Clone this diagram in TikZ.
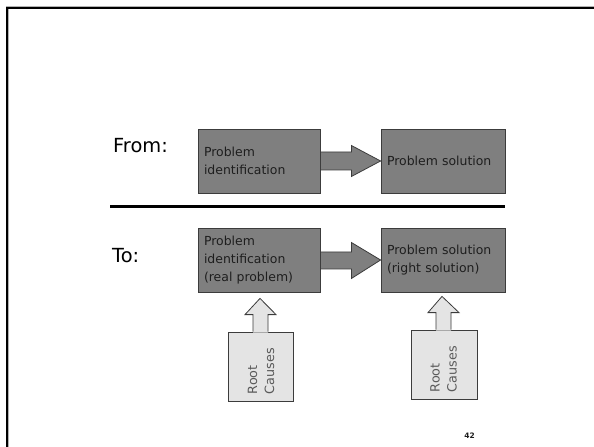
\documentclass[tikz,border=0pt]{standalone}
\usepackage{fontspec}
\setmainfont{DejaVu Sans}
\usetikzlibrary{calc}
\definecolor{boxfill}{HTML}{7F7F7F}
\definecolor{boxline}{HTML}{3C3C3C}
\definecolor{calfill}{HTML}{E4E4E4}
\definecolor{boxtext}{HTML}{1E1E1E}
\definecolor{rctextc}{HTML}{5A5A5A}
\tikzset{
  pbox/.style={draw=boxline, fill=boxfill, line width=0.8bp, rectangle,
    minimum height=64bp, inner xsep=6bp, inner ysep=0pt, align=left,
    text=boxtext, font=\fontsize{12.5}{18}\selectfont},
  barrow/.style={draw=boxline, fill=boxfill, line width=0.8bp, line join=miter},
  calbox/.style={draw=boxline, fill=calfill, line width=0.8bp, rectangle,
    minimum width=65bp, minimum height=69bp, inner sep=0pt},
  calhead/.style={draw=boxline, fill=calfill, line width=0.8bp, line join=miter},
  rctext/.style={rotate=90, anchor=west, align=left, text=rctextc,
    inner sep=0pt, font=\fontsize{12.8}{17}\selectfont},
  label/.style={anchor=base west, inner sep=0pt, font=\fontsize{19.5}{22}\selectfont},
}
\begin{document}
\begin{tikzpicture}[x=1bp,y=-1bp]
\useasboundingbox (0,0) rectangle (594,447);
% slide frame
\draw[gray!60, line width=3.4bp] (7.3,447) -- (7.3,7.8) -- (594,7.8);
\draw[black, line width=2.2bp] (7.3,447) -- (7.3,7.8) -- (594,7.8);

% labels
\node[label] (from) at (113,153) {From:};
\node[label] (to) at (112,263) {To:};

% separator
\draw[line width=3bp] (110,207) -- (505,207);

% From row
\node[pbox, text width=110bp] (b1) at (259,161) {Problem\\identification};
\node[pbox, text width=112bp] (b2) at (443,161) {Problem solution};
\draw[barrow] ($(b1.east)+(0,-9)$) -- ($(b1.east)+(31,-9)$) -- ($(b1.east)+(31,-15.5)$)
  -- (b2.west) -- ($(b1.east)+(31,15.5)$) -- ($(b1.east)+(31,9)$) -- ($(b1.east)+(0,9)$) -- cycle;

% To row
\node[pbox, text width=110bp] (b3) at (259,260) {Problem\\identification\\(real problem)};
\node[pbox, text width=112bp] (b4) at (443,260) {Problem solution\\(right solution)};
\draw[barrow] ($(b3.east)+(0,-8)$) -- ($(b3.east)+(31,-8)$) -- ($(b3.east)+(31,-17.5)$)
  -- (b4.west) -- ($(b3.east)+(31,18.5)$) -- ($(b3.east)+(31,9)$) -- ($(b3.east)+(0,9)$) -- cycle;

% Root causes callouts
\node[calbox] (rc1) at (260.5,366.5) {};
\coordinate (t1) at ($(b3.south)+(1,6)$);
\fill[calfill] ($(rc1.north)+(-7.5,1)$) -- ($(rc1.north)+(-7.5,-17)$) -- ($(rc1.north)+(-15.5,-17)$)
  -- (t1) -- ($(rc1.north)+(15.5,-17)$) -- ($(rc1.north)+(7.5,-17)$) -- ($(rc1.north)+(7.5,1)$) -- cycle;
\draw[calhead] ($(rc1.north)+(-7.5,0)$) -- ($(rc1.north)+(-7.5,-17)$) -- ($(rc1.north)+(-15.5,-17)$)
  -- (t1) -- ($(rc1.north)+(15.5,-17)$) -- ($(rc1.north)+(7.5,-17)$) -- ($(rc1.north)+(7.5,0)$);
\node[rctext] (rt1) at ($(rc1.south)+(0.5,-7)$) {Root\\Causes};

\node[calbox, minimum width=66bp] (rc2) at (444,364.5) {};
\coordinate (t2) at ($(b4.south)+(-1,4)$);
\fill[calfill] ($(rc2.north)+(-8,1)$) -- ($(rc2.north)+(-8,-17)$) -- ($(rc2.north)+(-16,-17)$)
  -- (t2) -- ($(rc2.north)+(15,-17)$) -- ($(rc2.north)+(7,-17)$) -- ($(rc2.north)+(7,1)$) -- cycle;
\draw[calhead] ($(rc2.north)+(-8,0)$) -- ($(rc2.north)+(-8,-17)$) -- ($(rc2.north)+(-16,-17)$)
  -- (t2) -- ($(rc2.north)+(15,-17)$) -- ($(rc2.north)+(7,-17)$) -- ($(rc2.north)+(7,0)$);
\node[rctext] (rt2) at ($(rc2.south)+(-0.5,-7)$) {Root\\Causes};

% page number
\node[font=\bfseries\fontsize{7.5}{9}\selectfont, text=boxtext, inner sep=0pt] (pg) at (469.5,436) {42};
\end{tikzpicture}
\end{document}
